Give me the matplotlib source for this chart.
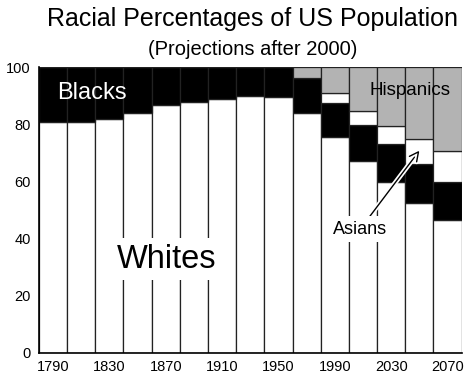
import numpy as np
import matplotlib.pyplot as plt
import matplotlib.patheffects as pe

plt.rcParams['font.family'] = ['Liberation Sans', 'DejaVu Sans']

years = [1790, 1810, 1830, 1850, 1870, 1890, 1910, 1930, 1950,
         1970, 1990, 2010, 2030, 2050, 2070]
whites = [80.9, 80.9, 81.8, 83.9, 86.8, 87.7, 88.8, 89.8, 89.5,
          83.9, 75.5, 67.3, 59.9, 52.6, 46.5]
blacks = [19.1, 19.1, 18.2, 16.1, 13.2, 12.3, 11.2, 10.2, 10.5,
          12.2, 12.1, 12.5, 13.2, 13.5, 13.4]
asians = [0, 0, 0, 0, 0, 0, 0, 0, 0, 0, 3.3, 5.0, 6.4, 8.7, 10.9]
hispanics = [0, 0, 0, 0, 0, 0, 0, 0, 0, 3.9, 9.1, 15.2, 20.5, 25.2, 29.2]
tick_years = [1790, 1830, 1870, 1910, 1950, 1990, 2030, 2070]

fig = plt.figure(figsize=(4.68, 3.77), dpi=100)
ax = fig.add_axes([0.083, 0.0645, 0.9035, 0.757])

whites = np.array(whites)
blacks = np.array(blacks)
asians = np.array(asians)
hispanics = np.array(hispanics)

kw = dict(width=20, edgecolor='#222222', linewidth=0.9)
ax.bar(years, whites, color='white', **kw)
ax.bar(years, blacks, bottom=whites, color='black', **kw)
ax.bar(years, asians, bottom=whites + blacks, color='white', **kw)
ax.bar(years, hispanics, bottom=whites + blacks + asians, color='#b3b3b3', **kw)

ax.set_xlim(1780, 2080)
ax.set_ylim(0, 100)
ax.set_yticks(range(0, 101, 20))
ax.set_xticks(tick_years)
ax.tick_params(length=0, labelsize=10.5)
ax.tick_params(axis='y', pad=6)
ax.tick_params(axis='x', pad=5)
for s in ['top', 'right']:
    ax.spines[s].set_visible(False)
ax.spines['left'].set_linewidth(1.2)
ax.spines['bottom'].set_linewidth(1.2)

ax.text(1818, 91, 'Blacks', color='white', fontsize=17, ha='center', va='center')
ax.text(2043, 92, 'Hispanics', color='black', fontsize=13.5, ha='center', va='center')
ax.text(1871, 32.8, 'Whites', color='black', fontsize=23.5, ha='center', va='center',
        bbox=dict(facecolor='white', edgecolor='none', pad=4))
ann = ax.annotate('Asians', xy=(2050, 70.8), xytext=(2008, 43.3),
                  fontsize=13, ha='center', va='center',
                  bbox=dict(facecolor='white', edgecolor='none', pad=3),
                  arrowprops=dict(arrowstyle='->,head_length=0.5,head_width=0.25',
                                  color='black', lw=1, shrinkA=0, shrinkB=0))
ann.arrow_patch.set_path_effects([pe.Stroke(linewidth=3.5, foreground='white'),
                                  pe.Normal()])

fig.text(0.54, 0.95, 'Racial Percentages of US Population', fontsize=18,
         ha='center', va='center')
fig.text(0.54, 0.87, '(Projections after 2000)', fontsize=14.5,
         ha='center', va='center')

fig.savefig('out.png', dpi=100)
